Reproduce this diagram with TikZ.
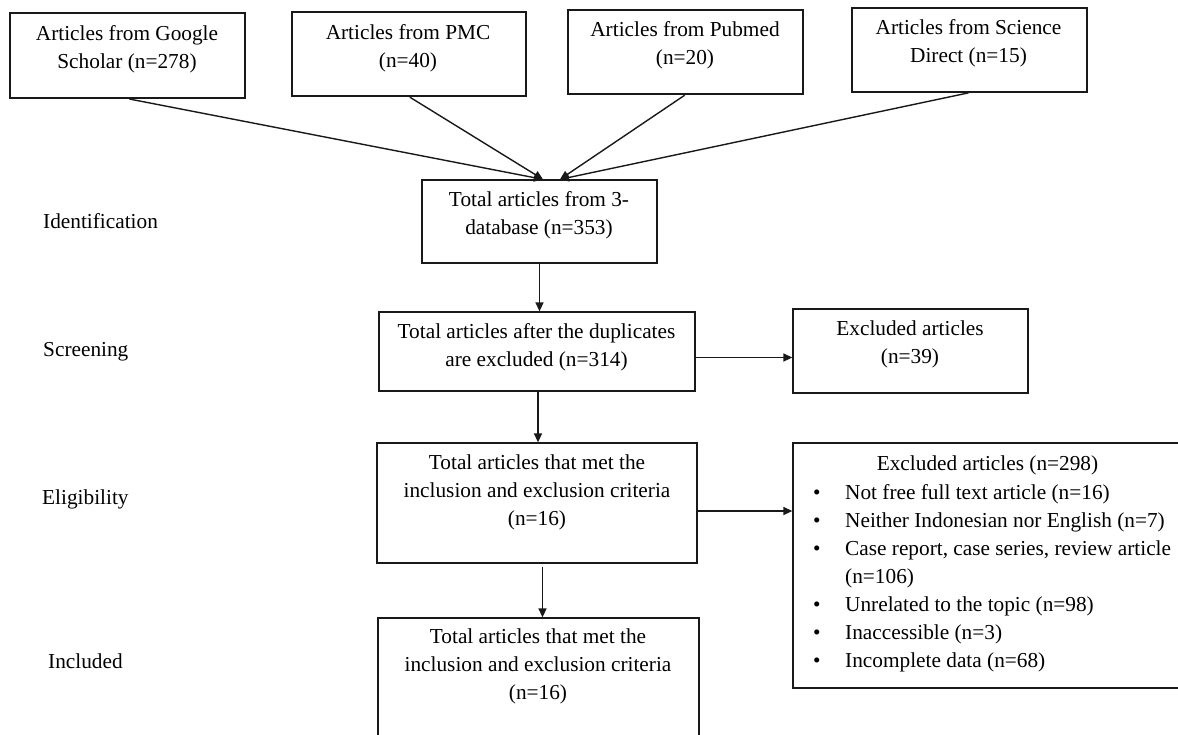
\documentclass[tikz,border=0pt]{standalone}
\usepackage{fontspec}
\setmainfont{Liberation Serif}
\usetikzlibrary{arrows.meta,calc}
\begin{document}
\begin{tikzpicture}[x=1pt,y=-1pt,
  font=\fontsize{21.3}{28}\selectfont,
  box/.style={draw=black!90, line width=1.3pt, rectangle, inner sep=0pt},
  txt/.style={align=center, inner sep=0pt},
  lbl/.style={anchor=west, inner sep=0pt},
  arr/.style={draw=black!90, line width=1.4pt, -{Triangle[length=9pt,width=8pt]}}]
\useasboundingbox (0,0) rectangle (1178,734);
\clip (0,0) rectangle (1178,734);
\fill[white] (0,0) rectangle (1178,734);

% boxes
\node[box, minimum width=235pt, minimum height=85pt] (gs)  at (127.5,55.5) {};
\node[box, minimum width=234pt, minimum height=84pt] (pmc) at (409,54) {};
\node[box, minimum width=235pt, minimum height=84pt] (pub) at (685.5,52) {};
\node[box, minimum width=235pt, minimum height=84pt] (sd)  at (969.5,50) {};
\node[box, minimum width=235pt, minimum height=83pt] (tot) at (539.5,221.5) {};
\node[box, minimum width=316pt, minimum height=79pt] (scr) at (537,351.5) {};
\node[box, minimum width=235pt, minimum height=84pt] (e39) at (910.5,351) {};
\node[box, minimum width=320pt, minimum height=120pt] (eli) at (537,503) {};
\node[box, minimum width=389pt, minimum height=245pt] (ex) at (987.5,565.5) {};
\node[box, minimum width=321pt, minimum height=152pt] (inc) at (538.5,694) {};

% texts
\node[txt] (gst)  at (127,49)    {Articles from Google\\Scholar (n=278)};
\node[txt] (pmct) at (408,48.5)  {Articles from PMC\\(n=40)};
\node[txt] (pubt) at (685,45.5)  {Articles from Pubmed\\(n=20)};
\node[txt] (sdt)  at (968.5,43.5){Articles from Science\\Direct (n=15)};
\node[txt] (tott) at (539,215)   {Total articles from 3-\\database (n=353)};
\node[txt] (scrt) at (536.5,347.5){Total articles after the duplicates\\are excluded (n=314)};
\node[txt] (e39t) at (910,344)   {Excluded articles\\(n=39)};
\node[txt] (elit) at (537,492)   {Total articles that met the\\inclusion and exclusion criteria\\(n=16)};
\node[txt] (inct) at (538,666)   {Total articles that met the\\inclusion and exclusion criteria\\(n=16)};
\node[txt] (ext)  at (987.5,465) {Excluded articles (n=298)};
\node[txt, align=left, anchor=north west] (exl) at (813,484.5) {%
\makebox[32pt][l]{\textbullet}Not free full text article (n=16)\\
\makebox[32pt][l]{\textbullet}Neither Indonesian nor English (n=7)\\
\makebox[32pt][l]{\textbullet}Case report, case series, review article\\
\hspace*{32pt}(n=106)\\
\makebox[32pt][l]{\textbullet}Unrelated to the topic (n=98)\\
\makebox[32pt][l]{\textbullet}Inaccessible (n=3)\\
\makebox[32pt][l]{\textbullet}Incomplete data (n=68)};

% stage labels
\node[lbl] (l1) at (43,221.5)  {Identification};
\node[lbl] (l2) at (43,351.5)  {Screening};
\node[lbl] (l3) at (42,499.5)  {Eligibility};
\node[lbl] (l4) at (48,661.5)  {Included};

% connectors
\draw[arr, shorten <=2pt] (gs.south)  -- ([xshift=3.5pt]tot.north);
\draw[arr, shorten <=1pt] (pmc.south) -- ([xshift=3.5pt]tot.north);
\draw[arr, shorten <=1pt] (pub.south) -- ([xshift=20.5pt]tot.north);
\draw[arr, shorten <=1pt] (sd.south)  -- ([xshift=20.5pt]tot.north);
\draw[arr] (tot.south) -- (tot.south |- scr.north);
\draw[arr] ([xshift=1pt]scr.south) -- ([xshift=1pt]scr.south |- eli.north);
\draw[arr, shorten <=3pt] ([xshift=5.5pt]eli.south) -- ([xshift=5.5pt]eli.south |- inc.north);
\draw[arr] ([yshift=-6pt]scr.east) -- ([yshift=-6pt]scr.east -| e39.west);
\draw[arr] ([yshift=-8pt]eli.east) -- ([yshift=-8pt]eli.east -| ex.west);
\end{tikzpicture}
\end{document}
